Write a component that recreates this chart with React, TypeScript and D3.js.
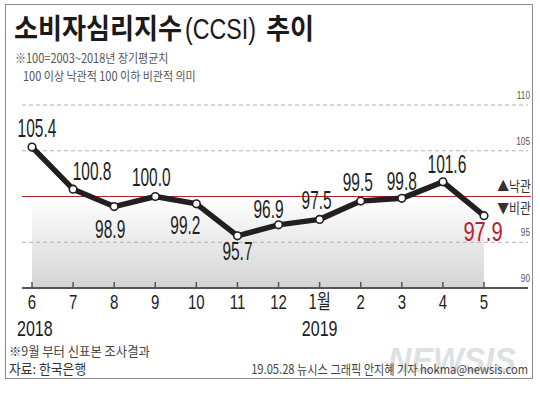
import React from 'react'
import * as d3 from 'd3'

const months = ['6', '7', '8', '9', '10', '11', '12', '1월', '2', '3', '4', '5']
const ccsi = [105.4, 100.8, 98.9, 100.0, 99.2, 95.7, 96.9, 97.5, 99.5, 99.8, 101.6, 97.9]
const yTicks = [90, 95, 100, 105, 110]
const years = [['2018', '6'], ['2019', '1월']]
// label placement relative to each point
const labelDx = [5, 19, -4, -4, -11, 0, -10, -3, -3, 0, 4, -1]
const labelDy = [-10, -9, 31, -11, 30, 24, -7, -10, -10, -8, -9, 25]

const W = 540
const H = 397
const LATIN = '"Liberation Sans", Arial, sans-serif'
const KR = '"Noto Sans CJK KR", "Noto Sans", sans-serif'

const CText = ({x, y, sx = 1, size, fill = '#222', anchor = 'start', weight = 400, family = LATIN, style = {}, children}: any) => (
  <text transform={`translate(${x},${y}) scale(${sx},1)`} fontSize={size} fill={fill}
    textAnchor={anchor} fontWeight={weight} fontFamily={family} style={style}>
    {children}
  </text>
)

export default function App() {
  const x = d3.scalePoint<string>().domain(months).range([32, 484])
  const y = d3.scaleLinear().domain([90, 110]).range([288, 105])
  const pts = months.map((m, i) => [x(m) as number, y(ccsi[i])] as [number, number])
  const line = d3.line()(pts)
  const fmt = d3.format('.1f')
  const last = ccsi.length - 1

  return (
    <svg width={W} height={H} style={{position: 'absolute', left: 0, top: 0, background: '#fff'}}>
      <defs>
        <linearGradient id="shade" x1="0" y1="0" x2="0" y2="1">
          <stop offset="0" stopColor="#ffffff" />
          <stop offset="1" stopColor="#d4d4d4" />
        </linearGradient>
      </defs>
      <rect x={5.5} y={4.5} width={527} height={374} fill="none" stroke="#8a8a8a" />

      {/* title block */}
      <CText x={14} y={39} size={29} sx={0.9} weight={700} family={KR} fill="#1a1a1a">소비자심리지수</CText>
      <CText x={185} y={39} size={29} sx={0.8} fill="#1a1a1a">(CCSI)</CText>
      <CText x={266} y={39} size={29} sx={0.9} weight={700} family={KR} fill="#1a1a1a">추이</CText>
      <CText x={15} y={63} size={12.5} sx={0.88} family={KR} fill="#555">※100=2003~2018년 장기평균치</CText>
      <CText x={23} y={81} size={12.5} sx={0.88} family={KR} fill="#555">100 이상 낙관적 100 이하 비관적 의미</CText>

      {/* shaded area under 100 line */}
      <rect x={x(months[0])} y={y(100)} width={(x(months[last]) as number) - (x(months[0]) as number)}
        height={y(90) - y(100)} fill="url(#shade)" />

      {/* gridlines and right axis labels */}
      {yTicks.filter(t => t !== 90 && t !== 100).map(t => (
        <line key={t} x1={22} x2={528} y1={y(t)} y2={y(t)} stroke="#b0b0b0" strokeDasharray="4,3" />
      ))}
      {yTicks.filter(t => t !== 100).map(t => (
        <CText key={'l' + t} x={530} y={y(t) - 6} size={11} sx={0.75} anchor="end" fill="#555">{t}</CText>
      ))}
      <line x1={22} x2={531} y1={y(100)} y2={y(100)} stroke="#b5232b" strokeWidth={1.2} />
      <CText x={531} y={y(100) - 6} size={14} sx={0.85} anchor="end" family={KR} fill="#333">▲낙관</CText>
      <CText x={531} y={y(100) + 16} size={14} sx={0.85} anchor="end" family={KR} fill="#333">▼비관</CText>

      {/* x axis */}
      <line x1={22} x2={528} y1={y(90)} y2={y(90)} stroke="#555" strokeWidth={2} />
      {months.map(m => (
        <g key={m}>
          <line x1={x(m)} x2={x(m)} y1={y(90)} y2={y(90) - 6} stroke="#555" strokeWidth={1.5} />
          <CText x={x(m)} y={309} size={20} sx={0.75} anchor="middle" fill="#222"
            family={m.includes('월') ? KR : LATIN}>{m}</CText>
        </g>
      ))}
      {years.map(([label, m]) => (
        <CText key={label} x={label === '2018' ? 17 : (x(m) as number)} y={336} size={22} sx={0.73}
          anchor={label === '2018' ? 'start' : 'middle'} fill="#1a1a1a">{label}</CText>
      ))}

      {/* series */}
      <path d={line || ''} fill="none" stroke="#231f20" strokeWidth={5.5} strokeLinejoin="round" />
      {pts.map(([px, py], i) => (
        <circle key={i} cx={px} cy={py} r={3.8} fill="#fff" stroke="#231f20" strokeWidth={1.6} />
      ))}
      {pts.map(([px, py], i) => (
        <CText key={'v' + i} x={px + labelDx[i]} y={py + labelDy[i]} anchor="middle"
          size={i === last ? 28 : 25} sx={i === last ? 0.72 : 0.62}
          fill={i === last ? '#b5232b' : '#231f20'}>{fmt(ccsi[i])}</CText>
      ))}

      {/* footer */}
      <CText x={9} y={356} size={13} sx={0.95} family={KR} fill="#444">※9월 부터 신표본 조사결과</CText>
      <CText x={9} y={374} size={13.5} sx={0.95} family={KR} fill="#333">자료: 한국은행</CText>
      <CText x={388} y={372} size={36} sx={0.9} weight={700} fill="#d8dce0"
        style={{fontStyle: 'italic', opacity: 0.85}}>NEWSIS</CText>
      <CText x={528} y={374} size={13} sx={0.86} anchor="end" family={KR} fill="#444">19.05.28 뉴시스 그래픽 안지혜 기자 hokma@newsis.com</CText>
    </svg>
  )
}
